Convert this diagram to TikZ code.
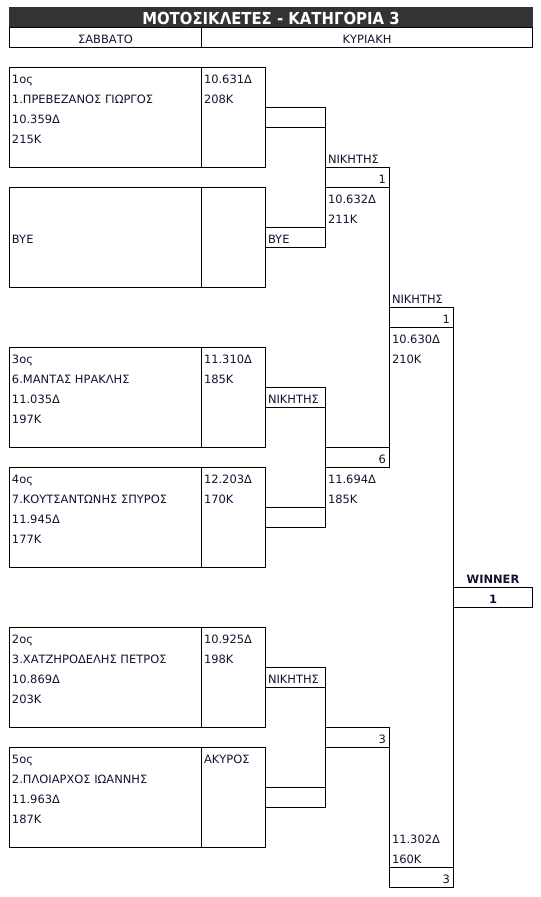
\documentclass[tikz,border=0pt]{standalone}
\usepackage{graphicx}
\usepackage{fontspec}
\setmainfont{DejaVu Sans}
\usetikzlibrary{calc}
\definecolor{txt}{RGB}{18,18,48}
\definecolor{barcol}{RGB}{51,51,51}
\begin{document}
\begin{tikzpicture}[x=0.75pt,y=-0.75pt,line width=0.75pt,
  tx/.style={anchor=base west,inner sep=0,text=txt,font=\fontsize{8.6}{10}\selectfont},
  rtx/.style={anchor=base east,inner sep=0,text=txt,font=\fontsize{8.6}{10}\selectfont},
  ctx/.style={anchor=base,inner sep=0,text=txt,font=\fontsize{8.6}{10}\selectfont},
  btx/.style={anchor=base,inner sep=0,text=txt,font=\bfseries\fontsize{8.6}{10}\selectfont},
  entry/.style={draw,anchor=north west,inner sep=0,outer sep=0,minimum width=192pt,minimum height=75pt},
  link/.style={draw,anchor=north west,inner sep=0,outer sep=0,minimum width=45pt,minimum height=15pt},
  slot/.style={draw,anchor=north west,inner sep=0,outer sep=0,minimum width=48pt,minimum height=15pt},
  winbox/.style={draw,anchor=north west,inner sep=0,outer sep=0,minimum width=59.25pt,minimum height=15pt}]
\useasboundingbox (0,0) rectangle (540,897);
% title
\fill[barcol] (9,7) rectangle (533,27);
\node[anchor=base,inner sep=0,text=white,font=\bfseries\fontsize{12.4}{14}\selectfont] (title) at (271,24.5) {\scalebox{0.9}[1]{ΜΟΤΟΣΙΚΛΕΤΕΣ - ΚΑΤΗΓΟΡΙΑ 3}};
% header
\node[draw,anchor=north west,inner sep=0,outer sep=0,minimum width=144pt,minimum height=15pt] (hsat) at (9.5,27) {};
\node[draw,anchor=north west,inner sep=0,outer sep=0,minimum width=248.25pt,minimum height=15pt] (hsun) at (201.5,27) {};
\node[ctx] (sat) at (105.5,43.5) {ΣΑΒΒΑΤΟ};
\node[ctx] (sun) at (367,43.5) {ΚΥΡΙΑΚΗ};
% entry boxes
\foreach \n/\y in {b1/67,b2/187,b3/347,b4/467,b5/627,b6/747}{
  \node[entry] (\n) at (9.5,\y) {};
  \draw ($(\n.north west)+(192,0)$) -- ($(\n.south west)+(192,0)$);
}
% first round link cells
\foreach \n/\y in {c1/107,c2/227,c3/387,c4/507,c5/667,c6/787}{
  \node[link] (\n) at (265.5,\y) {};
}
% second round slots
\foreach \n/\y in {d1/167,d2/447,d3/727}{
  \node[slot] (\n) at (325.5,\y) {};
}
% third round slots
\foreach \n/\y in {e1/307,e2/867}{
  \node[slot] (\n) at (389.5,\y) {};
}
\node[winbox] (w) at (453.5,587) {};
% bracket lines
\draw (c1.north east) -- (c2.south east);
\draw (c3.north east) -- (c4.south east);
\draw (c5.north east) -- (c6.south east);
\draw (d1.north east) -- (d2.south east);
\draw (d3.north east) -- (e2.south west);
\draw (e1.north east) -- (e2.south east);
% box 1
\node[tx] (t1a) at (11.5,83) {1ος};
\node[tx] (t1b) at (11.5,103) {1.ΠΡΕΒΕΖΑΝΟΣ ΓΙΩΡΓΟΣ};
\node[tx] (t1c) at (11.5,123) {10.359Δ};
\node[tx] (t1d) at (11.5,143) {215K};
\node[tx] (t1e) at (203.5,83) {10.631Δ};
\node[tx] (t1f) at (203.5,103) {208K};
% box 2
\node[tx] (t2a) at (11.5,243) {BYE};
\node[tx] (c2t) at (267.5,243) {BYE};
% round 2 upper
\node[tx] (n1) at (327.5,163) {ΝΙΚΗΤΗΣ};
\node[rtx] (d1t) at (386.5,183) {1};
\node[tx] (d1a) at (327.5,203) {10.632Δ};
\node[tx] (d1b) at (327.5,223) {211K};
% round 3 upper
\node[tx] (n2) at (391.5,303) {ΝΙΚΗΤΗΣ};
\node[rtx] (e1t) at (450.5,323) {1};
\node[tx] (e1a) at (391.5,343) {10.630Δ};
\node[tx] (e1b) at (391.5,363) {210K};
% box 3
\node[tx] (t3a) at (11.5,363) {3ος};
\node[tx] (t3b) at (11.5,383) {6.ΜΑΝΤΑΣ ΗΡΑΚΛΗΣ};
\node[tx] (t3c) at (11.5,403) {11.035Δ};
\node[tx] (t3d) at (11.5,423) {197K};
\node[tx] (t3e) at (203.5,363) {11.310Δ};
\node[tx] (t3f) at (203.5,383) {185K};
\node[tx] (c3t) at (267.5,403) {ΝΙΚΗΤΗΣ};
% round 2 middle
\node[rtx] (d2t) at (386.5,463) {6};
\node[tx] (d2a) at (327.5,483) {11.694Δ};
\node[tx] (d2b) at (327.5,503) {185K};
% box 4
\node[tx] (t4a) at (11.5,483) {4ος};
\node[tx] (t4b) at (11.5,503) {7.ΚΟΥΤΣΑΝΤΩΝΗΣ ΣΠΥΡΟΣ};
\node[tx] (t4c) at (11.5,523) {11.945Δ};
\node[tx] (t4d) at (11.5,543) {177K};
\node[tx] (t4e) at (203.5,483) {12.203Δ};
\node[tx] (t4f) at (203.5,503) {170K};
% winner
\node[btx] (wl) at (493,583) {WINNER};
\node[btx] (wt) at (493,603) {1};
% box 5
\node[tx] (t5a) at (11.5,643) {2ος};
\node[tx] (t5b) at (11.5,663) {3.ΧΑΤΖΗΡΟΔΕΛΗΣ ΠΕΤΡΟΣ};
\node[tx] (t5c) at (11.5,683) {10.869Δ};
\node[tx] (t5d) at (11.5,703) {203K};
\node[tx] (t5e) at (203.5,643) {10.925Δ};
\node[tx] (t5f) at (203.5,663) {198K};
\node[tx] (c5t) at (267.5,683) {ΝΙΚΗΤΗΣ};
% round 2 lower
\node[rtx] (d3t) at (386.5,743) {3};
% box 6
\node[tx] (t6a) at (11.5,763) {5ος};
\node[tx] (t6b) at (11.5,783) {2.ΠΛΟΙΑΡΧΟΣ ΙΩΑΝΝΗΣ};
\node[tx] (t6c) at (11.5,803) {11.963Δ};
\node[tx] (t6d) at (11.5,823) {187K};
\node[tx] (t6e) at (203.5,763) {ΑΚΥΡΟΣ};
% round 3 lower
\node[tx] (e2a) at (391.5,843) {11.302Δ};
\node[tx] (e2b) at (391.5,863) {160K};
\node[rtx] (e2t) at (450.5,883) {3};
\end{tikzpicture}
\end{document}
